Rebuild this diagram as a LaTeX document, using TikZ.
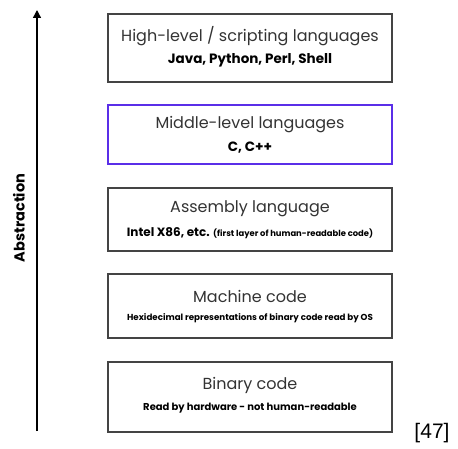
\documentclass[tikz,border=0pt]{standalone}
\usepackage{fontspec}
\setmainfont{Poppins}
\newfontfamily\refont{Liberation Sans}
\usetikzlibrary{arrows.meta}
\definecolor{boxline}{HTML}{444444}
\definecolor{midline}{HTML}{5A2EE8}
\definecolor{titletext}{HTML}{333333}
\tikzset{
  layer/.style={draw=boxline, line width=1.3pt, minimum width=284pt, inner sep=0pt},
  midlayer/.style={layer, draw=midline},
  ttl/.style={text=titletext, font=\fontsize{16}{18}\selectfont, inner sep=0pt},
  sub/.style={text=black, font=\bfseries\fontsize{13.5}{15}\selectfont, inner sep=0pt},
  subsmall/.style={text=black, font=\bfseries\fontsize{8.7}{10}\selectfont, inner sep=0pt},
}
\begin{document}
\begin{tikzpicture}[x=1pt, y=-1pt]
\useasboundingbox (0,0) rectangle (458,449);

% layer boxes, top to bottom
\node[layer, minimum height=68pt] (high) at (250,48) {};
\node[midlayer, minimum height=59pt] (mid) at (250,134.5) {};
\node[layer, minimum height=63pt] (asm) at (250,219.5) {};
\node[layer, minimum height=64pt] (mach) at (250,306) {};
\node[layer, minimum height=70pt] (bin) at (250,397) {};

% titles and descriptions
\node[ttl] (highT) at (250,36) {High-level / scripting languages};
\node[sub] (highS) at (250,60) {Java, Python, Perl, Shell};
\node[ttl] (midT) at (250,125) {Middle-level languages};
\node[sub] (midS) at (250,148) {C, C++};
\node[ttl] (asmT) at (250,209) {Assembly language};
\node[sub, font=\bfseries\fontsize{12}{14}\selectfont] (asmS) at (250,233) {Intel X86, etc. {\fontsize{8.4}{10}\selectfont(first layer of human-readable code)}};
\node[ttl] (machT) at (250,296) {Machine code};
\node[subsmall] (machS) at (250,318) {Hexidecimal representations of binary code read by OS};
\node[ttl] (binT) at (250,385) {Binary code};
\node[subsmall, font=\bfseries\fontsize{10}{12}\selectfont] (binS) at (250,408) {Read by hardware - not human-readable};

% abstraction axis
\coordinate (axisBot) at (37,431);
\coordinate (axisTop) at (37,10);
\draw[line width=1.4pt, -{Triangle[length=8pt,width=8pt]}] (axisBot) -- (axisTop);
\node[rotate=90, font=\bfseries\fontsize{14.5}{16}\selectfont, inner sep=0pt] (abs) at (19,218) {Abstraction};

% reference mark
\node[font=\refont\fontsize{21}{24}\selectfont, inner sep=0pt] (ref) at (432,433) {[47]};
\end{tikzpicture}
\end{document}
